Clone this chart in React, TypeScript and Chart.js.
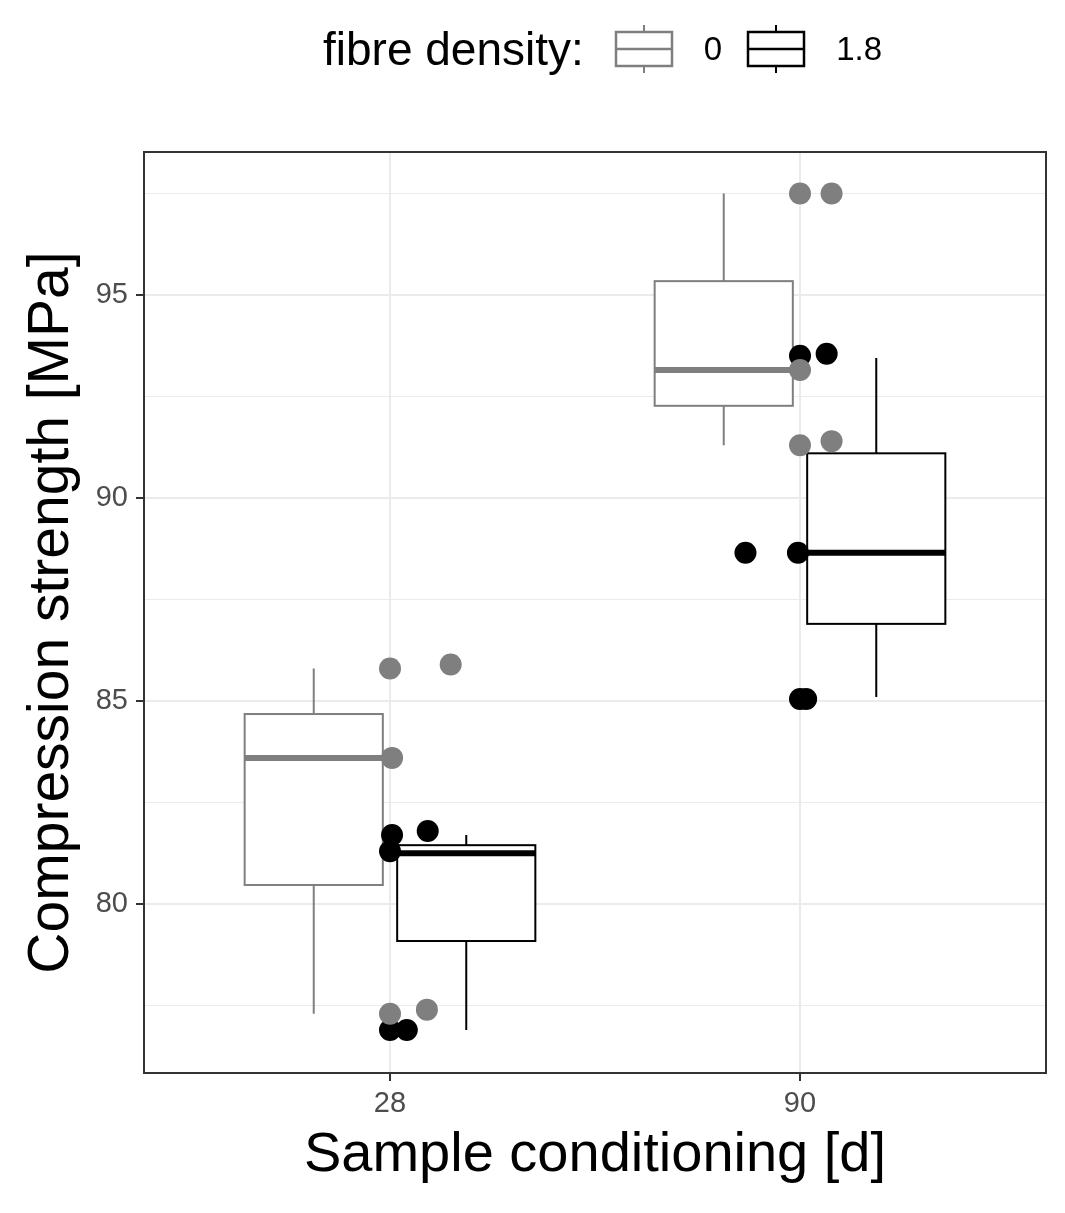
import React, { useEffect, useRef } from "react";
import { Chart, registerables } from "chart.js";
Chart.register(...registerables);

const categories = ["28", "90"];
const groups = ["0", "1.8"];
const groupColors = ["#7f7f7f", "#000000"];
// box stats per group per category: [low, q1, median, q3, high]
const boxGrey = [[77.3, 80.47, 83.6, 84.68, 85.8], [91.3, 92.27, 93.15, 95.34, 97.5]];
const boxBlack = [[76.9, 79.09, 81.25, 81.45, 81.7], [85.1, 86.9, 88.65, 91.1, 93.45]];
const pointsGrey = [
  { x: 1.0, y: 85.8 }, { x: 1.148, y: 85.9 }, { x: 1.005, y: 83.6 }, { x: 1.0, y: 77.3 }, { x: 1.09, y: 77.4 },
  { x: 2.0, y: 97.5 }, { x: 2.077, y: 97.5 }, { x: 2.0, y: 93.15 }, { x: 2.0, y: 91.3 }, { x: 2.077, y: 91.4 },
];
const pointsBlack = [
  { x: 1.005, y: 81.7 }, { x: 1.092, y: 81.8 }, { x: 1.0, y: 81.3 }, { x: 1.0, y: 76.9 }, { x: 1.041, y: 76.9 },
  { x: 2.0, y: 93.5 }, { x: 2.065, y: 93.55 }, { x: 1.867, y: 88.65 }, { x: 1.995, y: 88.65 }, { x: 2.0, y: 85.05 }, { x: 2.015, y: 85.05 },
];
const dodge = 0.186;
const boxWidth = 0.337;

const boxPlugin = {
  id: "boxes",
  beforeDatasetsDraw(chart: any) {
    const { ctx, scales } = chart;
    const xs = scales.x, ys = scales.y;
    ctx.save();
    [boxGrey, boxBlack].forEach((boxes, g) => {
      boxes.forEach((b, i) => {
        const c = i + 1 + (g === 0 ? -dodge : dodge);
        const xl = xs.getPixelForValue(c - boxWidth / 2);
        const xr = xs.getPixelForValue(c + boxWidth / 2);
        const xc = xs.getPixelForValue(c);
        const [lo, q1, med, q3, hi] = b.map((v: number) => ys.getPixelForValue(v));
        ctx.strokeStyle = groupColors[g];
        ctx.lineWidth = 2;
        ctx.beginPath();
        ctx.moveTo(xc, lo); ctx.lineTo(xc, q1);
        ctx.moveTo(xc, q3); ctx.lineTo(xc, hi);
        ctx.stroke();
        ctx.fillStyle = "#fff";
        ctx.fillRect(xl, q3, xr - xl, q1 - q3);
        ctx.strokeRect(xl, q3, xr - xl, q1 - q3);
        ctx.lineWidth = 6;
        ctx.beginPath();
        ctx.moveTo(xl, med); ctx.lineTo(xr, med);
        ctx.stroke();
      });
    });
    ctx.restore();
  },
  afterDraw(chart: any) {
    const { ctx, chartArea: a } = chart;
    ctx.save();
    ctx.strokeStyle = "#333";
    ctx.lineWidth = 2;
    ctx.strokeRect(a.left, a.top, a.right - a.left, a.bottom - a.top);
    ctx.restore();
  },
};

function LegendIcon({ color }: { color: string }) {
  return (
    <svg width="60" height="48" style={{ verticalAlign: "middle" }}>
      <line x1="30" y1="0" x2="30" y2="48" stroke={color} strokeWidth="2" />
      <rect x="2" y="7" width="56" height="34" fill="#fff" stroke={color} strokeWidth="2.5" />
      <line x1="2" y1="24" x2="58" y2="24" stroke={color} strokeWidth="2.5" />
    </svg>
  );
}

export default function App() {
  const ref = useRef<HTMLCanvasElement>(null);
  useEffect(() => {
    const chart = new Chart(ref.current!, {
      type: "scatter",
      data: {
        datasets: [
          { label: groups[0], data: pointsGrey, backgroundColor: groupColors[0], borderWidth: 0, pointRadius: 11 },
          { label: groups[1], data: pointsBlack, backgroundColor: groupColors[1], borderWidth: 0, pointRadius: 11 },
        ],
      },
      options: {
        animation: false,
        responsive: false,
        layout: { padding: { top: 144, left: 6, right: 9, bottom: 12 } },
        plugins: { legend: { display: false }, tooltip: { enabled: false } },
        scales: {
          x: {
            type: "linear", min: 0.4, max: 2.6,
            afterBuildTicks: (s: any) => { s.ticks = [{ value: 1 }, { value: 2 }]; },
            afterFit: (s: any) => { s.height = 120; },
            ticks: { callback: (v: any) => categories[v - 1], color: "#4d4d4d", font: { size: 29, family: "Liberation Sans" }, padding: 6 },
            grid: { color: "#ebebeb", lineWidth: 2, tickColor: "#333", tickLength: 8 },
            border: { display: false },
            title: { display: true, text: "Sample conditioning [d]", color: "#000", font: { size: 56, family: "Liberation Sans" }, padding: { top: 0 } },
          },
          y: {
            min: 75.84, max: 98.52,
            afterBuildTicks: (s: any) => { s.ticks = [77.5, 80, 82.5, 85, 87.5, 90, 92.5, 95, 97.5].map((value) => ({ value })); },
            afterFit: (s: any) => { s.width = 130; },
            ticks: { callback: (v: any) => (v % 5 === 0 ? String(v) : ""), color: "#4d4d4d", font: { size: 29, family: "Liberation Sans" }, padding: 8 },
            grid: {
              color: () => "#ebebeb",
              lineWidth: (c: any) => (c.tick && c.tick.value % 5 === 0 ? 2 : 1),
              tickColor: (c: any) => (c.tick && c.tick.value % 5 === 0 ? "#333" : "rgba(0,0,0,0)"),
              tickLength: 8,
            },
            border: { display: false },
            title: { display: true, text: "Compression strength [MPa]", color: "#000", font: { size: 57, family: "Liberation Sans" }, padding: { bottom: 0 } },
          },
        },
      },
      plugins: [boxPlugin],
    } as any);
    return () => chart.destroy();
  }, []);
  return (
    <div style={{ position: "relative", width: 1049, height: 1197, fontFamily: "Liberation Sans, Arial, sans-serif" }}>
      <canvas ref={ref} width={1049} height={1197} style={{ display: "block" }} />
      <div style={{ position: "absolute", top: 14, left: 0, width: 1049, display: "flex", justifyContent: "center", alignItems: "center", paddingLeft: 140, boxSizing: "border-box" }}>
        <span style={{ fontSize: 46, marginRight: 30 }}>fibre density:</span>
        <LegendIcon color={groupColors[0]} />
        <span style={{ fontSize: 33, margin: "0 24px 0 30px" }}>{groups[0]}</span>
        <LegendIcon color={groupColors[1]} />
        <span style={{ fontSize: 33, marginLeft: 30 }}>{groups[1]}</span>
      </div>
    </div>
  );
}
